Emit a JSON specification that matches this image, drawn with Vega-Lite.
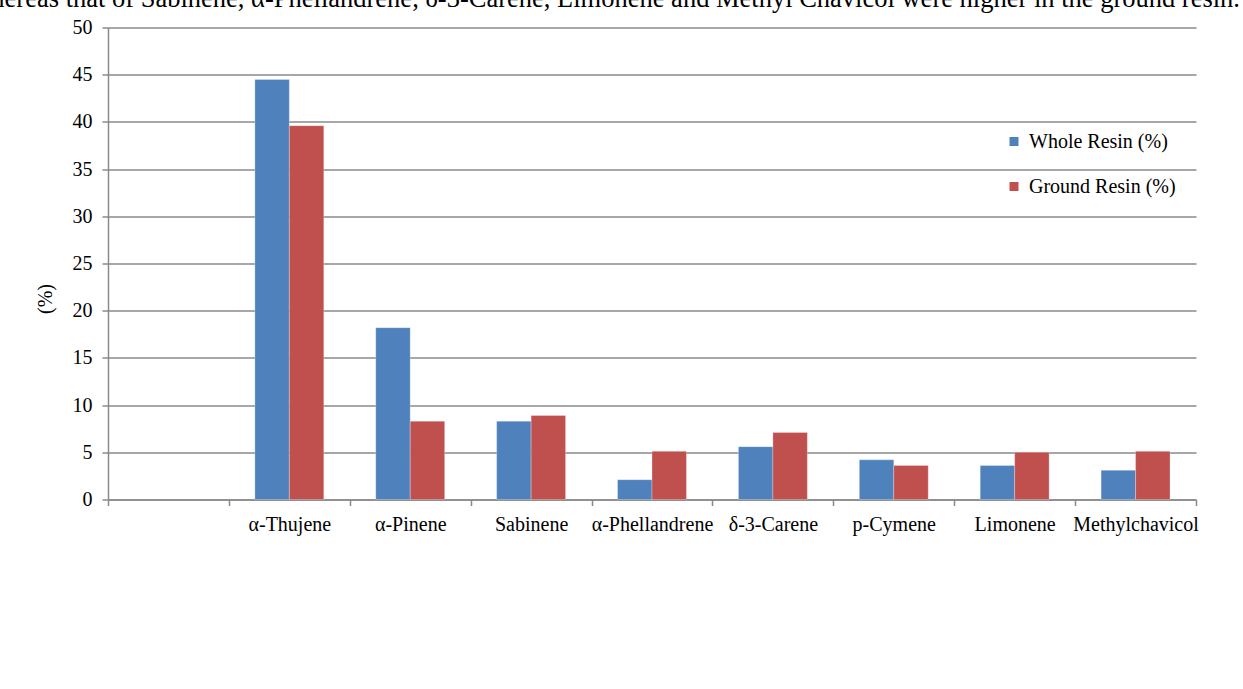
{
  "$schema": "https://vega.github.io/schema/vega-lite/v6.json",
  "width": 1088,
  "height": 472,
  "autosize": {"type": "none"},
  "padding": {"left": 108, "top": 27.5, "right": 47, "bottom": 189.5},
  "background": "white",
  "title": {
    "text": "whereas that of Sabinene, α-Phellandrene, δ-3-Carene, Limonene and Methyl Chavicol were higher in the ground resin.",
    "anchor": "end",
    "frame": "group",
    "font": "Liberation Serif, Times New Roman, serif",
    "fontSize": 26.5,
    "fontWeight": "normal",
    "color": "black",
    "baseline": "alphabetic",
    "offset": 0,
    "dx": 44,
    "dy": 16
  },
  "data": {
    "values": [
      {"compound": "α-Thujene", "sample": "Whole Resin (%)", "value": 44.5},
      {"compound": "α-Thujene", "sample": "Ground Resin (%)", "value": 39.6},
      {"compound": "α-Pinene", "sample": "Whole Resin (%)", "value": 18.2},
      {"compound": "α-Pinene", "sample": "Ground Resin (%)", "value": 8.3},
      {"compound": "Sabinene", "sample": "Whole Resin (%)", "value": 8.3},
      {"compound": "Sabinene", "sample": "Ground Resin (%)", "value": 8.9},
      {"compound": "α-Phellandrene", "sample": "Whole Resin (%)", "value": 2.1},
      {"compound": "α-Phellandrene", "sample": "Ground Resin (%)", "value": 5.1},
      {"compound": "δ-3-Carene", "sample": "Whole Resin (%)", "value": 5.6},
      {"compound": "δ-3-Carene", "sample": "Ground Resin (%)", "value": 7.1},
      {"compound": "p-Cymene", "sample": "Whole Resin (%)", "value": 4.2},
      {"compound": "p-Cymene", "sample": "Ground Resin (%)", "value": 3.6},
      {"compound": "Limonene", "sample": "Whole Resin (%)", "value": 3.6},
      {"compound": "Limonene", "sample": "Ground Resin (%)", "value": 5.0},
      {"compound": "Methylchavicol", "sample": "Whole Resin (%)", "value": 3.1},
      {"compound": "Methylchavicol", "sample": "Ground Resin (%)", "value": 5.1}
    ]
  },
  "mark": {"type": "bar", "stroke": "white", "strokeOpacity": 0.35, "strokeWidth": 0.8},
  "encoding": {
    "x": {
      "field": "compound",
      "type": "nominal",
      "scale": {
        "domain": [" ", "α-Thujene", "α-Pinene", "Sabinene", "α-Phellandrene", "δ-3-Carene", "p-Cymene", "Limonene", "Methylchavicol"],
        "paddingInner": 0,
        "paddingOuter": 0
      },
      "axis": {
        "title": null,
        "labelAngle": 0,
        "tickBand": "extent",
        "labelFont": "Liberation Serif, Times New Roman, serif",
        "labelFontSize": 20,
        "labelColor": "black",
        "labelPadding": 9,
        "tickSize": 6,
        "tickColor": "#8a8a8a",
        "tickWidth": 1.5,
        "domainColor": "#8a8a8a",
        "domainWidth": 1.5,
        "grid": false
      }
    },
    "xOffset": {
      "field": "sample",
      "type": "nominal",
      "sort": ["Whole Resin (%)", "Ground Resin (%)"],
      "scale": {"paddingInner": 0, "paddingOuter": 0.754}
    },
    "y": {
      "field": "value",
      "type": "quantitative",
      "scale": {"domain": [0, 50], "nice": false},
      "axis": {
        "title": "(%)",
        "titleFont": "Liberation Serif, Times New Roman, serif",
        "titleFontSize": 20,
        "titleFontWeight": "normal",
        "titleColor": "black",
        "titleAngle": 270,
        "titleX": -63,
        "titleY": 271,
        "titleBaseline": "middle",
        "titleAlign": "center",
        "values": [0, 5, 10, 15, 20, 25, 30, 35, 40, 45, 50],
        "labelFont": "Liberation Serif, Times New Roman, serif",
        "labelFontSize": 20,
        "labelColor": "black",
        "labelPadding": 10,
        "tickSize": 6,
        "tickColor": "#8a8a8a",
        "tickWidth": 1.5,
        "domainColor": "#8a8a8a",
        "domainWidth": 1.5,
        "grid": true,
        "gridColor": "#8a8a8a",
        "gridWidth": 1.5
      }
    },
    "color": {
      "field": "sample",
      "type": "nominal",
      "sort": ["Whole Resin (%)", "Ground Resin (%)"],
      "scale": {"domain": ["Whole Resin (%)", "Ground Resin (%)"], "range": ["#4F81BD", "#C0504D"]},
      "legend": {
        "title": null,
        "orient": "none",
        "legendX": 896,
        "legendY": 104,
        "padding": 0,
        "symbolType": "square",
        "symbolSize": 81,
        "symbolStrokeWidth": 0,
        "labelFont": "Liberation Serif, Times New Roman, serif",
        "labelFontSize": 20,
        "labelColor": "black",
        "labelOffset": 5,
        "rowPadding": 25
      }
    }
  },
  "config": {
    "view": {"stroke": null}
  }
}
